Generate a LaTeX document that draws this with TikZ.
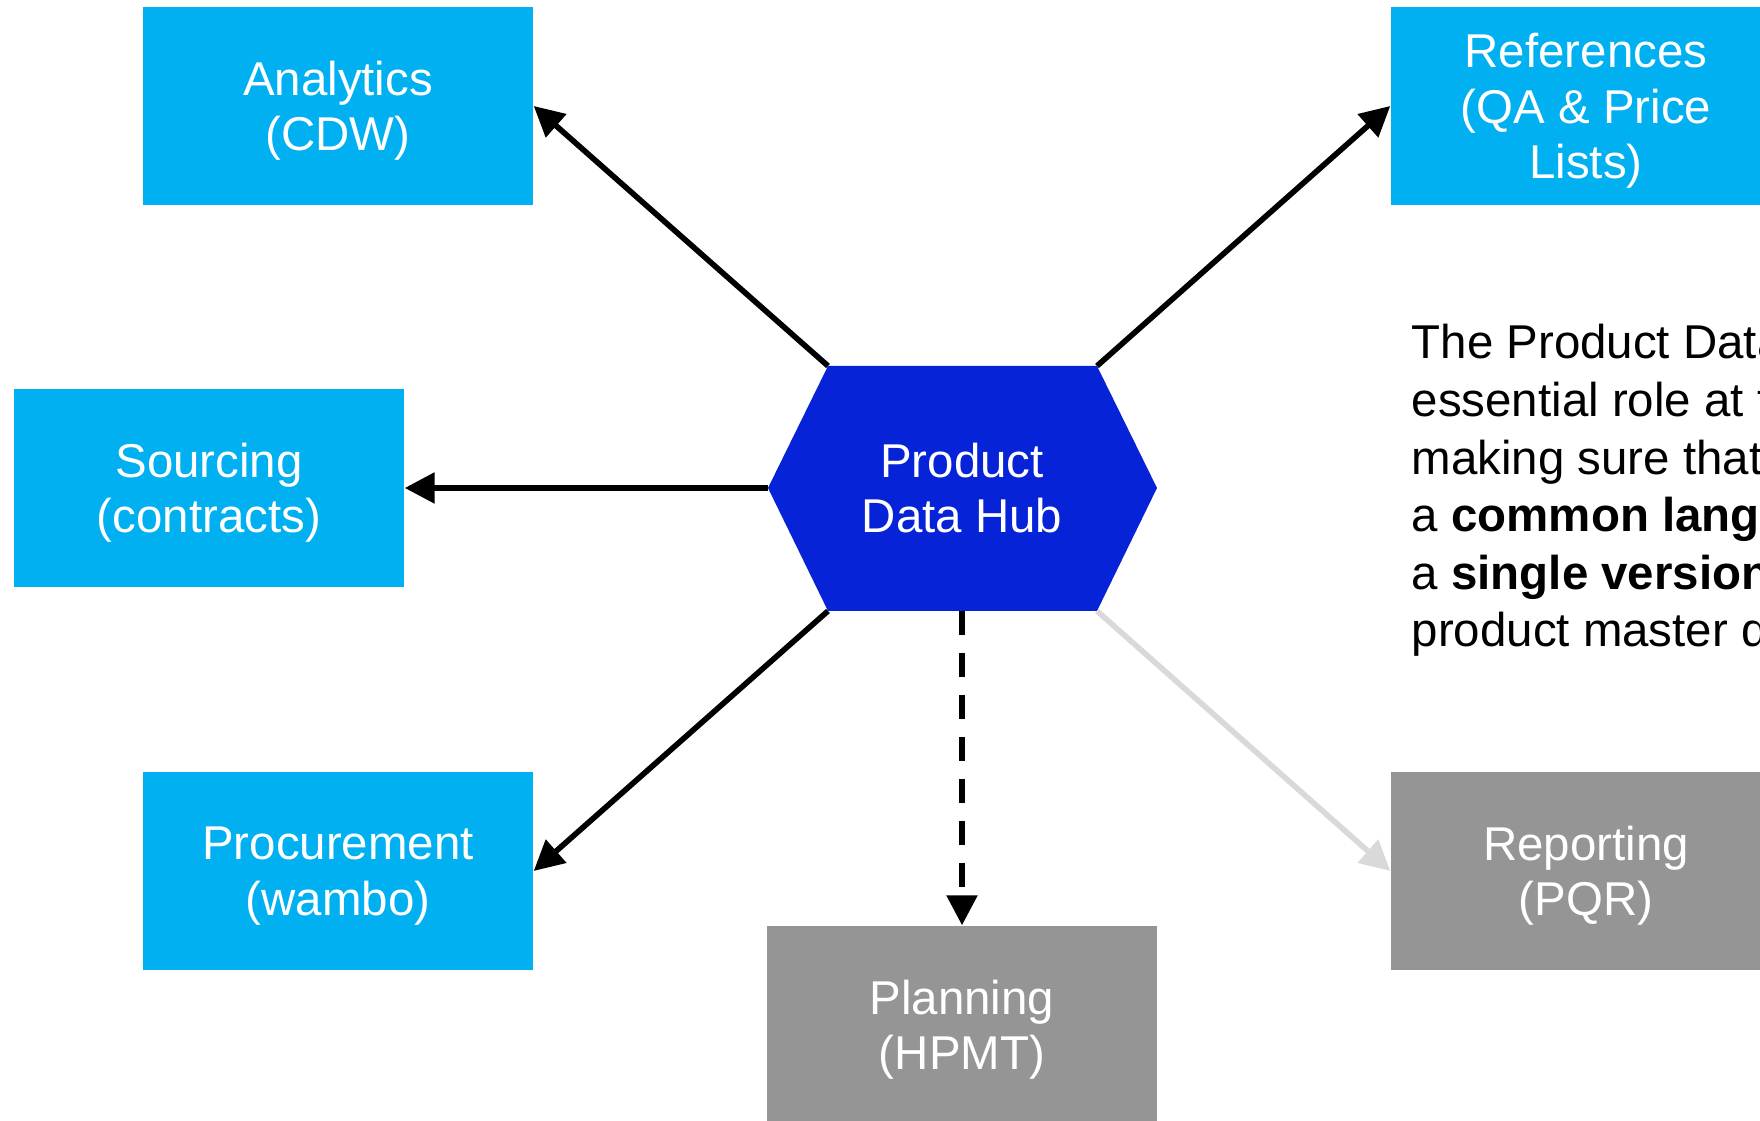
\documentclass[tikz,border=0pt]{standalone}
\usepackage{fontspec}
\setmainfont{Liberation Sans}
\usetikzlibrary{arrows.meta}
\definecolor{celeste}{HTML}{00B0F0}
\definecolor{azulhub}{HTML}{0623D7}
\definecolor{grisbloque}{HTML}{959595}
\definecolor{grisflecha}{HTML}{D9D9D9}

\begin{document}
\begin{tikzpicture}[x=1cm,y=1cm,
  bloque/.style={fill=celeste,text=white,minimum width=3.9cm,minimum height=1.98cm,
    inner sep=1pt,text depth=0pt,align=center,font=\fontsize{13.5}{15.8}\selectfont},
  gris/.style={bloque,fill=grisbloque},
  flecha/.style={line width=1.6pt,-{Triangle[length=0.3cm,width=0.3cm]}}]
  \useasboundingbox (0,0) rectangle (17.6,11.21);
  \node[bloque] (an) at (3.38,10.15) {Analytics\\(CDW)};
  \node[bloque] (rf) at (15.86,10.15) {References\\(QA \& Price\\Lists)};
  \node[bloque] (so) at (2.09,6.33) {Sourcing\\(contracts)};
  \node[bloque] (pr) at (3.38,2.50) {Procurement\\(wambo)};
  \node[gris] (pl) at (9.62,0.96) {Planning\\(HPMT)};
  \node[gris] (rp) at (15.86,2.50) {Reporting\\(PQR)};
  % hexagono central
  \coordinate (h1) at (7.68,6.33); \coordinate (h2) at (8.28,7.55);
  \coordinate (h3) at (10.97,7.55); \coordinate (h4) at (11.57,6.33);
  \coordinate (h5) at (10.97,5.10); \coordinate (h6) at (8.28,5.10);
  \coordinate (hb) at (9.62,5.10);
  \fill[azulhub] (h1) -- (h2) -- (h3) -- (h4) -- (h5) -- (h6) -- cycle;
  \node[text=white,align=center,font=\fontsize{13.5}{15.8}\selectfont] (hub) at (9.62,6.33)
    {Product\\Data Hub};
  \draw[flecha] (h2) -- (an.east);
  \draw[flecha] (h3) -- (rf.west);
  \draw[flecha] (h1) -- (so.east);
  \draw[flecha] (h6) -- (pr.east);
  \draw[flecha,dash pattern=on 0.24cm off 0.18cm] (hb) -- (pl.north);
  \draw[flecha,grisflecha] (h5) -- (rp.west);
  % texto lateral
  \node[anchor=base west,align=left,inner sep=0pt,
    font=\fontsize{13.5}{16.4}\selectfont] (nota) at (14.11,4.74)
    {The Product Data Hub\\essential role at the\\making sure that\\
     a \textbf{common language}\\a \textbf{single version}\\product master data};
\end{tikzpicture}
\end{document}
